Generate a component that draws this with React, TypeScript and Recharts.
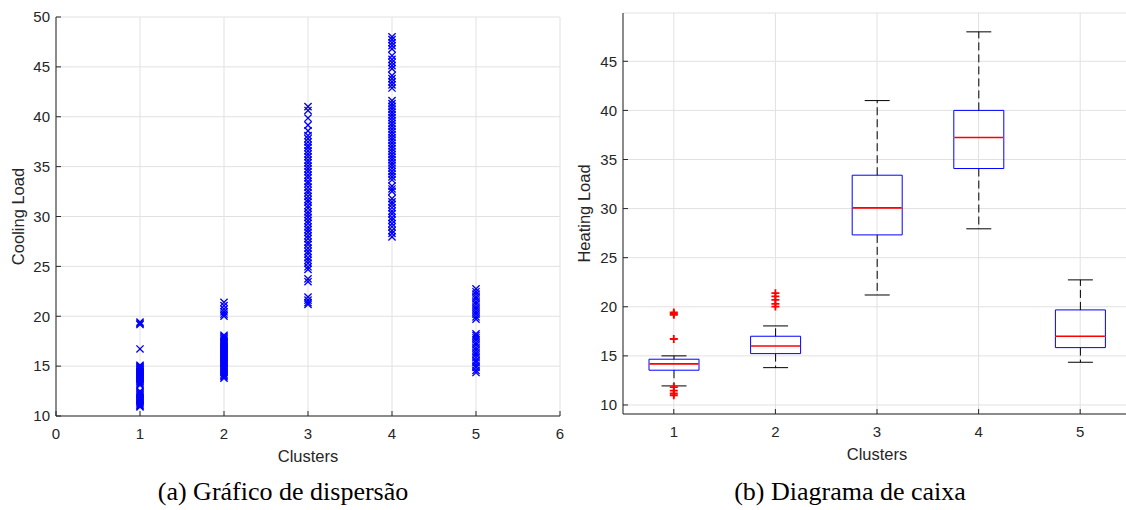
import React from 'react';
import {
  ScatterChart,
  Scatter,
  XAxis,
  YAxis,
  CartesianGrid,
  ComposedChart,
  Bar,
} from 'recharts';

// ---------- data ----------
const clusterIds = [1, 2, 3, 4, 5];

const cluster1Loads = [10.92, 11.01, 11.1, 11.21, 11.33, 11.44, 11.56, 11.66, 11.79, 11.9, 12.02, 12.14, 12.27, 12.38, 12.5, 13.1, 13.22, 13.33, 13.44, 13.53, 13.62, 13.71, 13.8, 13.89, 13.97, 14.06, 14.14, 14.23, 14.31, 14.4, 14.48, 14.57, 14.65, 14.74, 14.83, 14.92, 15.01, 15.09, 16.72, 19.17, 19.29, 19.41];
const cluster2Loads = [13.79, 13.94, 14.08, 14.21, 14.36, 14.49, 14.62, 14.76, 14.88, 15.01, 15.13, 15.24, 15.37, 15.49, 15.6, 15.72, 15.83, 15.95, 16.06, 16.17, 16.29, 16.41, 16.52, 16.64, 16.75, 16.87, 16.99, 17.11, 17.23, 17.36, 17.48, 17.61, 17.74, 17.87, 17.99, 18.1, 20.02, 20.21, 20.44, 20.71, 21.06, 21.4];
const cluster3Loads = [21.18, 21.37, 21.62, 21.93, 23.46, 23.74, 24.7, 24.96, 25.33, 25.61, 25.87, 26.24, 26.5, 26.83, 27.19, 27.42, 27.78, 28.07, 28.41, 28.69, 28.95, 29.31, 29.58, 29.92, 30.2, 30.47, 30.83, 31.1, 31.44, 31.69, 32.02, 32.36, 32.61, 32.95, 33.28, 33.52, 33.88, 34.15, 34.49, 34.77, 35.06, 35.38, 35.65, 35.99, 36.27, 36.58, 36.9, 37.14, 37.47, 37.81, 38.12, 38.58, 39.16, 39.87, 40.63, 41.02];
const cluster4Loads = [27.96, 28.31, 28.58, 28.97, 29.28, 29.64, 29.9, 30.27, 30.53, 30.88, 31.21, 31.47, 31.79, 32.52, 32.76, 33.05, 33.68, 33.97, 34.26, 34.53, 34.84, 35.12, 35.37, 35.68, 35.95, 36.23, 36.52, 36.81, 37.08, 37.37, 37.66, 37.92, 38.21, 38.49, 38.77, 39.06, 39.34, 39.62, 39.91, 40.19, 40.47, 40.76, 41.04, 41.32, 41.61, 42.88, 43.19, 43.5, 43.82, 44.13, 44.83, 45.12, 45.44, 45.75, 46.12, 46.81, 47.13, 47.42, 47.73, 48.01];
const cluster5Loads = [14.36, 14.58, 14.87, 15.09, 15.37, 15.58, 15.86, 16.12, 16.33, 16.61, 16.84, 17.12, 17.33, 17.62, 17.84, 18.06, 18.24, 19.71, 19.93, 20.22, 20.44, 20.71, 20.93, 21.22, 21.44, 21.73, 21.94, 22.23, 22.46, 22.74];

const scatterTicksX = [0, 1, 2, 3, 4, 5, 6];
const scatterTicksY = [10, 15, 20, 25, 30, 35, 40, 45, 50];
const boxTicksY = [10, 15, 20, 25, 30, 35, 40, 45];

const boxMin = [11.94, 13.8, 21.2, 27.94, 14.35];
const boxQ1 = [13.54, 15.23, 27.32, 34.08, 15.84];
const boxMedian = [14.18, 16.01, 30.07, 37.24, 17.0];
const boxQ3 = [14.66, 17.0, 33.4, 40.0, 19.68];
const boxMax = [15.0, 18.05, 41.0, 48.0, 22.74];

const outlierCluster = [1, 1, 1, 1, 1, 1, 1, 1, 2, 2, 2, 2, 2];
const outlierLoad = [19.42, 19.3, 19.18, 16.72, 11.82, 11.46, 11.19, 10.99, 20.02, 20.3, 20.7, 21.05, 21.39];

// ---------- derived tables ----------
const clusterLoads = [cluster1Loads, cluster2Loads, cluster3Loads, cluster4Loads, cluster5Loads];
const scatterPoints = clusterLoads.flatMap((loads, i) =>
  loads.map((load) => ({ cluster: clusterIds[i], load }))
);

const boxRows = clusterIds.map((c, i) => ({
  cluster: c,
  base: boxMin[i],
  lowWhisker: boxQ1[i] - boxMin[i],
  lowBox: boxMedian[i] - boxQ1[i],
  highBox: boxQ3[i] - boxMedian[i],
  highWhisker: boxMax[i] - boxQ3[i],
}));

const outlierPoints = outlierCluster.map((c, i) => ({ cluster: c, load: outlierLoad[i] }));

// ---------- styles ----------
const SANS = '"Liberation Sans", Arial, Helvetica, sans-serif';
const SERIF = '"Liberation Serif", "Times New Roman", serif';
const INK = '#262626';
const GRID = '#e1e1e1';
const TICK_FS = 15;
const LABEL_FS = 16.5;

// ---------- custom ticks & shapes ----------
const BottomTick = (props: any) => {
  const { x, y, payload } = props;
  return (
    <g>
      <line x1={x} x2={x} y1={y} y2={y - 5} stroke={INK} strokeWidth={1} />
      <text x={x} y={y + 23} textAnchor="middle" fontSize={TICK_FS} fill={INK} fontFamily={SANS}>
        {payload.value}
      </text>
    </g>
  );
};

const TopTick = (props: any) => {
  const { x, y } = props;
  return <line x1={x} x2={x} y1={y} y2={y + 5} stroke={INK} strokeWidth={1} />;
};

const LeftTick = (props: any) => {
  const { x, y, payload } = props;
  return (
    <g>
      <line x1={x} x2={x + 5} y1={y} y2={y} stroke={INK} strokeWidth={1} />
      <text x={x - 6} y={y + 5.3} textAnchor="end" fontSize={TICK_FS} fill={INK} fontFamily={SANS}>
        {payload.value}
      </text>
    </g>
  );
};

const RightTick = (props: any) => {
  const { x, y } = props;
  return <line x1={x} x2={x - 5} y1={y} y2={y} stroke={INK} strokeWidth={1} />;
};

const XMark = (props: any) => {
  const { cx, cy } = props;
  if (cx == null || cy == null) return <g />;
  const r = 3.6;
  return (
    <path
      d={`M${cx - r},${cy - r}L${cx + r},${cy + r}M${cx - r},${cy + r}L${cx + r},${cy - r}`}
      stroke="#0000ff"
      strokeWidth={1.35}
      fill="none"
    />
  );
};

const PlusMark = (props: any) => {
  const { cx, cy } = props;
  if (cx == null || cy == null) return <g />;
  const r = 4;
  return (
    <path
      d={`M${cx - r},${cy}L${cx + r},${cy}M${cx},${cy - r}L${cx},${cy + r}`}
      stroke="#ff0000"
      strokeWidth={1.8}
      fill="none"
    />
  );
};

const EmptyShape = () => <g />;

const LowWhiskerShape = (props: any) => {
  const { x, y, width, height } = props;
  const cx = x + width / 2;
  const bottom = y + height;
  return (
    <g>
      <line x1={cx} x2={cx} y1={y} y2={bottom} stroke="#000" strokeWidth={1} strokeDasharray="8 4" />
      <line x1={cx - 12.5} x2={cx + 12.5} y1={bottom} y2={bottom} stroke="#000" strokeWidth={1} />
    </g>
  );
};

const HighWhiskerShape = (props: any) => {
  const { x, y, width, height } = props;
  const cx = x + width / 2;
  const bottom = y + height;
  return (
    <g>
      <line x1={cx} x2={cx} y1={bottom} y2={y} stroke="#000" strokeWidth={1} strokeDasharray="8 4" />
      <line x1={cx - 12.5} x2={cx + 12.5} y1={y} y2={y} stroke="#000" strokeWidth={1} />
    </g>
  );
};

// lower half of the box: blue sides + bottom, red median on top
const LowBoxShape = (props: any) => {
  const { x, y, width, height } = props;
  const bottom = y + height;
  return (
    <g>
      <path
        d={`M${x},${y}L${x},${bottom}L${x + width},${bottom}L${x + width},${y}`}
        stroke="#0000ff"
        strokeWidth={1}
        fill="none"
      />
      <line x1={x + 0.5} x2={x + width - 0.5} y1={y} y2={y} stroke="#ff0000" strokeWidth={1.6} />
    </g>
  );
};

// upper half of the box: blue sides + top
const HighBoxShape = (props: any) => {
  const { x, y, width, height } = props;
  const bottom = y + height;
  return (
    <path
      d={`M${x},${bottom}L${x},${y}L${x + width},${y}L${x + width},${bottom}`}
      stroke="#0000ff"
      strokeWidth={1}
      fill="none"
    />
  );
};

// ---------- charts ----------
const ScatterPanel = () => (
  <ScatterChart width={580} height={470} margin={{ top: 17, right: 20, bottom: 4, left: 10 }}>
    <CartesianGrid stroke={GRID} strokeWidth={1} />
    <XAxis
      type="number"
      dataKey="cluster"
      domain={[0, 6]}
      ticks={scatterTicksX}
      interval={0}
      height={50}
      axisLine={{ stroke: INK, strokeWidth: 1 }}
      tickLine={false}
      tickSize={0}
      tickMargin={0}
      tick={<BottomTick />}
      label={{ value: 'Clusters', position: 'insideBottom', offset: 4, fill: INK, fontSize: LABEL_FS, fontFamily: SANS }}
    />
    <YAxis
      type="number"
      dataKey="load"
      domain={[10, 50]}
      ticks={scatterTicksY}
      interval={0}
      width={46}
      axisLine={{ stroke: INK, strokeWidth: 1 }}
      tickLine={false}
      tickSize={0}
      tickMargin={0}
      tick={<LeftTick />}
      label={{
        value: 'Cooling Load',
        angle: -90,
        position: 'insideLeft',
        offset: 8,
        fill: INK,
        fontSize: LABEL_FS,
        fontFamily: SANS,
        style: { textAnchor: 'middle' },
      }}
    />
    <Scatter data={scatterPoints} shape={<XMark />} isAnimationActive={false} />
  </ScatterChart>
);

const BoxPanel = () => (
  <ComposedChart width={580} height={470} data={boxRows} margin={{ top: 13, right: 9, bottom: 6, left: 10 }}>
    <CartesianGrid stroke={GRID} strokeWidth={1} />
    <XAxis
      dataKey="cluster"
      type="category"
      allowDuplicatedCategory={false}
      interval={0}
      height={50}
      axisLine={{ stroke: INK, strokeWidth: 1 }}
      tickLine={false}
      tickSize={0}
      tickMargin={0}
      tick={<BottomTick />}
      label={{ value: 'Clusters', position: 'insideBottom', offset: 4, fill: INK, fontSize: LABEL_FS, fontFamily: SANS }}
    />
    <XAxis
      xAxisId="top"
      orientation="top"
      dataKey="cluster"
      type="category"
      allowDuplicatedCategory={false}
      interval={0}
      height={0}
      axisLine={{ stroke: INK, strokeWidth: 1 }}
      tickLine={false}
      tickSize={0}
      tickMargin={0}
      tick={<TopTick />}
    />
    <YAxis
      type="number"
      domain={[9.08, 49.92]}
      allowDataOverflow
      ticks={boxTicksY}
      interval={0}
      width={53}
      axisLine={{ stroke: INK, strokeWidth: 1 }}
      tickLine={false}
      tickSize={0}
      tickMargin={0}
      tick={<LeftTick />}
      label={{
        value: 'Heating Load',
        angle: -90,
        position: 'insideLeft',
        offset: 14,
        fill: INK,
        fontSize: LABEL_FS,
        fontFamily: SANS,
        style: { textAnchor: 'middle' },
      }}
    />
    <YAxis
      yAxisId="right"
      orientation="right"
      type="number"
      domain={[9.08, 49.92]}
      allowDataOverflow
      ticks={boxTicksY}
      interval={0}
      width={0}
      axisLine={{ stroke: INK, strokeWidth: 1 }}
      tickLine={false}
      tickSize={0}
      tickMargin={0}
      tick={<RightTick />}
    />
    <Bar dataKey="base" stackId="box" barSize={50} shape={<EmptyShape />} isAnimationActive={false} />
    <Bar dataKey="lowWhisker" stackId="box" barSize={50} shape={<LowWhiskerShape />} isAnimationActive={false} />
    <Bar dataKey="lowBox" stackId="box" barSize={50} shape={<LowBoxShape />} isAnimationActive={false} />
    <Bar dataKey="highBox" stackId="box" barSize={50} shape={<HighBoxShape />} isAnimationActive={false} />
    <Bar dataKey="highWhisker" stackId="box" barSize={50} shape={<HighWhiskerShape />} isAnimationActive={false} />
    <Scatter data={outlierPoints} dataKey="load" shape={<PlusMark />} isAnimationActive={false} />
  </ComposedChart>
);

export default function App() {
  return (
    <div
      style={{
        position: 'absolute',
        left: 0,
        top: 0,
        width: 1126,
        height: 510,
        overflow: 'hidden',
        background: '#fff',
      }}
    >
      <div style={{ position: 'absolute', left: 0, top: 0 }}>
        <ScatterPanel />
      </div>
      <div style={{ position: 'absolute', left: 560, top: 0 }}>
        <BoxPanel />
      </div>
      <div
        style={{
          position: 'absolute',
          left: 133,
          width: 300,
          top: 479,
          textAlign: 'center',
          fontFamily: SERIF,
          fontSize: 26,
          lineHeight: '26px',
          color: '#000',
          whiteSpace: 'nowrap',
        }}
      >
        (a) Gráfico de dispersão
      </div>
      <div
        style={{
          position: 'absolute',
          left: 700,
          width: 300,
          top: 479,
          textAlign: 'center',
          fontFamily: SERIF,
          fontSize: 26,
          lineHeight: '26px',
          color: '#000',
          whiteSpace: 'nowrap',
        }}
      >
        (b) Diagrama de caixa
      </div>
    </div>
  );
}
